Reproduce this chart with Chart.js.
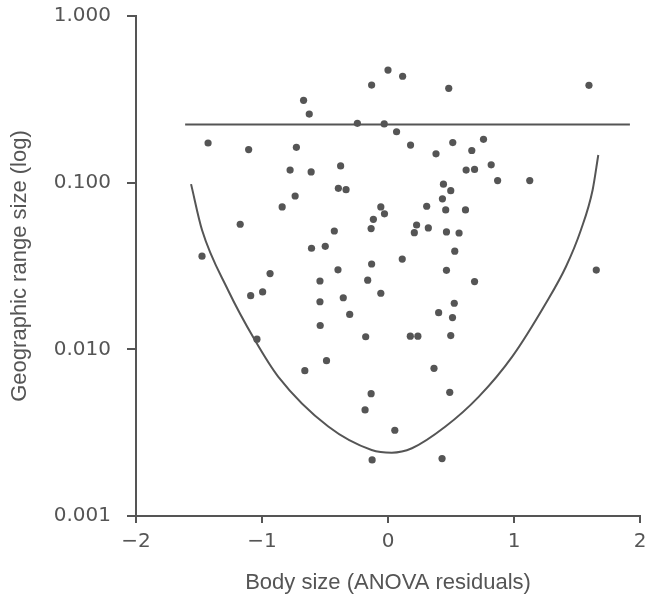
<!DOCTYPE html>
<html>
<head>
<meta charset="utf-8">
<script src="https://cdn.jsdelivr.net/npm/chart.js@4/dist/chart.umd.min.js"></script>
<style>
  html, body { margin: 0; padding: 0; background: #fff; }
  canvas { display: block; }
</style>
</head>
<body>
<canvas id="chart" width="651" height="597"></canvas>
<script>
// --- data ---
const pointX = [
  0.00, -0.13, -0.67, -0.625, -0.243, -0.03, -1.428, -1.106, -0.727, -0.777,
  -0.61, -0.376, -0.394, -0.333, -0.737, -0.84, -0.057, -0.028, -0.116, -0.134,
  -1.173, -0.426, -0.607, -0.498, -1.476, -0.936, -0.397, -0.13, -0.54, -0.161,
  0.116, 0.482, 1.595, 0.068, 0.179, 0.381, 0.514, 0.665, 0.758, 0.62,
  0.687, 0.819, 0.87, 1.125, 0.44, 0.498, 0.432, 0.307, 0.458, 0.615,
  0.227, 0.209, 0.32, 0.464, 0.564, 0.53, 0.113, 0.464, 1.653, 0.687,
  -1.09, -0.995, -0.54, -0.355, -0.057, -0.304, -0.538, -0.177, -1.04, -0.488,
  -0.66, -0.134, -0.182, -0.126,
  0.526, 0.402, 0.512, 0.177, 0.237, 0.498, 0.365, 0.49, 0.054, 0.429
];
const pointY = [
  0.474, 0.385, 0.312, 0.258, 0.227, 0.225, 0.173, 0.158, 0.163, 0.119,
  0.116, 0.126, 0.0925, 0.0908, 0.0832, 0.0715, 0.0715, 0.065, 0.0603, 0.053,
  0.0563, 0.0513, 0.0404, 0.0415, 0.0362, 0.0285, 0.030, 0.0325, 0.0257, 0.026,
  0.435, 0.368, 0.384, 0.202, 0.168, 0.149, 0.174, 0.156, 0.182, 0.119,
  0.120, 0.128, 0.103, 0.103, 0.098, 0.0895, 0.080, 0.0722, 0.0686, 0.0686,
  0.0557, 0.0501, 0.0535, 0.0506, 0.0499, 0.0388, 0.0348, 0.0298, 0.0299, 0.0255,
  0.021, 0.0221, 0.0193, 0.0204, 0.0217, 0.0162, 0.0139, 0.0119, 0.0115, 0.00855,
  0.00745, 0.00542, 0.00433, 0.00217,
  0.0189, 0.0166, 0.0155, 0.0120, 0.0120, 0.0121, 0.00769, 0.00552, 0.00327, 0.00221
];

// lower boundary curve
const curveX = [-1.563, -1.476, -1.27, -1.058, -0.872, -0.474, -0.13, 0.03, 0.19, 0.456, 0.721, 0.986, 1.253, 1.412, 1.531, 1.624, 1.669];
const curveY = [0.098, 0.052, 0.0227, 0.0114, 0.00686, 0.00344, 0.00249, 0.0024, 0.00255, 0.00344, 0.0052, 0.00904, 0.0189, 0.0313, 0.052, 0.0904, 0.1466];

// horizontal upper line
const cutoffX = [-1.61, 1.92];
const cutoffY = [0.223, 0.223];

const xTicks = [-2, -1, 0, 1, 2];
const yTicks = [0.001, 0.01, 0.1, 1];

const ink = '#555';
const toXY = (xs, ys) => xs.map((x, i) => ({ x: x, y: ys[i] }));

// keep the plot box fixed: drop the extra room Chart.js adds for end labels
function fixPadding(s) {
  s.paddingTop = 0;
  s.paddingBottom = 0;
  s.paddingLeft = 0;
  s.paddingRight = 0;
}

const ctx = document.getElementById('chart').getContext('2d');
new Chart(ctx, {
  type: 'scatter',
  data: {
    datasets: [
      {
        data: toXY(pointX, pointY),
        pointRadius: 3.6,
        pointBackgroundColor: ink,
        pointBorderWidth: 0
      },
      {
        data: toXY(curveX, curveY),
        showLine: true,
        cubicInterpolationMode: 'monotone',
        borderColor: ink,
        borderWidth: 2,
        pointRadius: 0
      },
      {
        data: toXY(cutoffX, cutoffY),
        showLine: true,
        borderColor: ink,
        borderWidth: 2,
        pointRadius: 0
      }
    ]
  },
  options: {
    responsive: false,
    animation: false,
    layout: { padding: { top: 16, right: 11, left: 0, bottom: 0 } },
    plugins: { legend: { display: false }, tooltip: { enabled: false } },
    scales: {
      x: {
        type: 'linear',
        min: -2, max: 2,
        afterBuildTicks: s => { s.ticks = xTicks.map(v => ({ value: v })); },
        afterFit: s => { s.height = 81; fixPadding(s); },
        grid: { drawOnChartArea: false, drawTicks: true, tickLength: 7, color: ink, lineWidth: 2 },
        border: { color: ink, width: 2 },
        ticks: {
          color: ink,
          padding: 7,
          font: { family: 'DejaVu Sans', size: 20 },
          callback: v => (v < 0 ? '\u2212' + Math.abs(v) : String(v))
        },
        title: {
          display: true,
          text: 'Body size (ANOVA residuals)',
          color: ink,
          font: { family: 'Liberation Sans', size: 22 },
          padding: { top: 0, bottom: 1 }
        }
      },
      y: {
        type: 'logarithmic',
        min: 0.001, max: 1,
        afterBuildTicks: s => { s.ticks = yTicks.map(v => ({ value: v })); },
        afterFit: s => { s.width = 136; fixPadding(s); },
        grid: { drawOnChartArea: false, drawTicks: true, tickLength: 9, color: ink, lineWidth: 2 },
        border: { color: ink, width: 2 },
        ticks: {
          color: ink,
          padding: 16,
          font: { family: 'DejaVu Sans', size: 20 },
          callback: v => Number(v).toFixed(3)
        },
        title: {
          display: true,
          text: 'Geographic range size (log)',
          color: ink,
          font: { family: 'Liberation Sans', size: 22 },
          padding: { top: 7, bottom: 0 }
        }
      }
    }
  }
});
</script>
</body>
</html>
